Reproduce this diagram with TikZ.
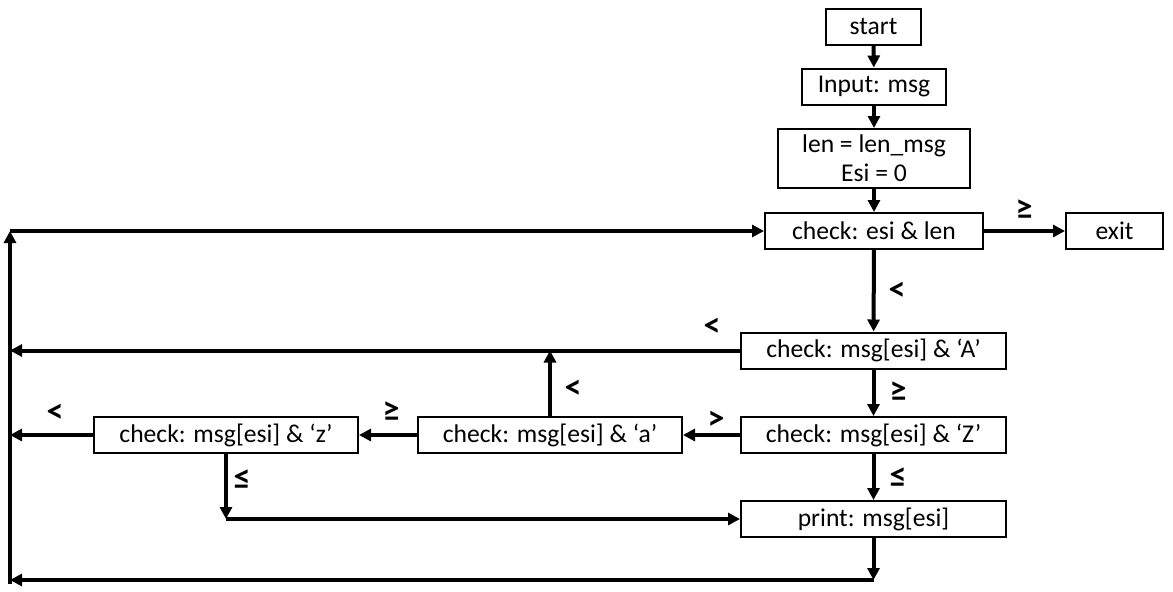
\documentclass[tikz,border=0pt]{standalone}
\usepackage{fontspec}
\setmainfont{Carlito}
\usetikzlibrary{arrows.meta}

\begin{document}
\begin{tikzpicture}[x=0.5pt, y=-0.5pt,
  box/.style={draw, line width=1pt, minimum height=18pt, inner sep=0pt,
    font=\fontsize{12.8}{14.5}\selectfont},
  flow/.style={line width=2pt, -{Triangle[length=6pt, width=6pt]}},
  rel/.style={font=\bfseries\fontsize{17}{17}\selectfont, inner sep=0pt}]
\path (0,0) rectangle (1173,591);
% main column
\node[box, minimum width=47.5pt] (start) at (873.5,26.5) {start};
\node[box, minimum width=72pt] (input) at (874,86.5) {Input: msg};
\node[box, minimum width=96pt, minimum height=29.5pt, align=center] (init) at (874,158.5) {len = len\_msg\\Esi = 0};
\node[box, minimum width=109pt] (chklen) at (874,231) {check: esi \& len};
\node[box, minimum width=48.5pt] (exit) at (1114.5,231) {exit};
\node[box, minimum width=132.5pt] (chkA) at (873.5,350.5) {check: msg[esi] \& ‘A’};
\node[box, minimum width=132.5pt] (chkZ) at (873.5,435) {check: msg[esi] \& ‘Z’};
\node[box, minimum width=132.5pt] (print) at (873.5,519) {print: msg[esi]};
% lower case branch
\node[box, minimum width=132pt] (chka) at (550,435) {check: msg[esi] \& ‘a’};
\node[box, minimum width=132pt] (chkz) at (226,435) {check: msg[esi] \& ‘z’};
% loop corners
\coordinate (top) at (10,231);
\coordinate (bot) at (10,580);
\draw[flow] (start) -- (input);
\draw[flow] (input) -- (init);
\draw[flow] (init) -- (chklen);
\draw[flow] (chklen) -- (exit);
\draw[flow] (chklen) -- (chkA);
\draw[flow] (chkA) -- (chkZ);
\draw[flow] (chkZ) -- (print);
\draw[flow] (chkZ) -- (chka);
\draw[flow] (chka) -- (chkz);
\draw[flow] (chkA.west) -- (chkA.west -| bot);
\draw[flow] (chka.north) -- (chka.north |- chkA.west);
\draw[flow] (chkz.west) -- (chkz.west -| bot);
\draw[flow] (chkz.south) -- (chkz.south |- print.west);
\draw[flow] (chkz.south |- print.west) -- (print.west);
\draw[flow] (print.south) -- (print.south |- bot);
\draw[flow] (print.south |- bot) -- (bot);
\draw[flow] ([yshift=-2pt]bot) -- (top);
\draw[flow] (top) -- (chklen.west);
% comparison labels
\node[rel] (geexit) at (1024,210) {≥};
\node[rel] (ltlen) at (897,291) {<};
\node[rel] (ltA) at (712,327) {<};
\node[rel] (geA) at (898,392) {≥};
\node[rel] (leZ) at (898,478) {≤};
\node[rel] (gtZ) at (716,420) {>};
\node[rel] (lta) at (573,389) {<};
\node[rel] (gea) at (391,412) {≥};
\node[rel] (ltz) at (55,413) {<};
\node[rel] (lez) at (242,480) {≤};
\end{tikzpicture}
\end{document}
